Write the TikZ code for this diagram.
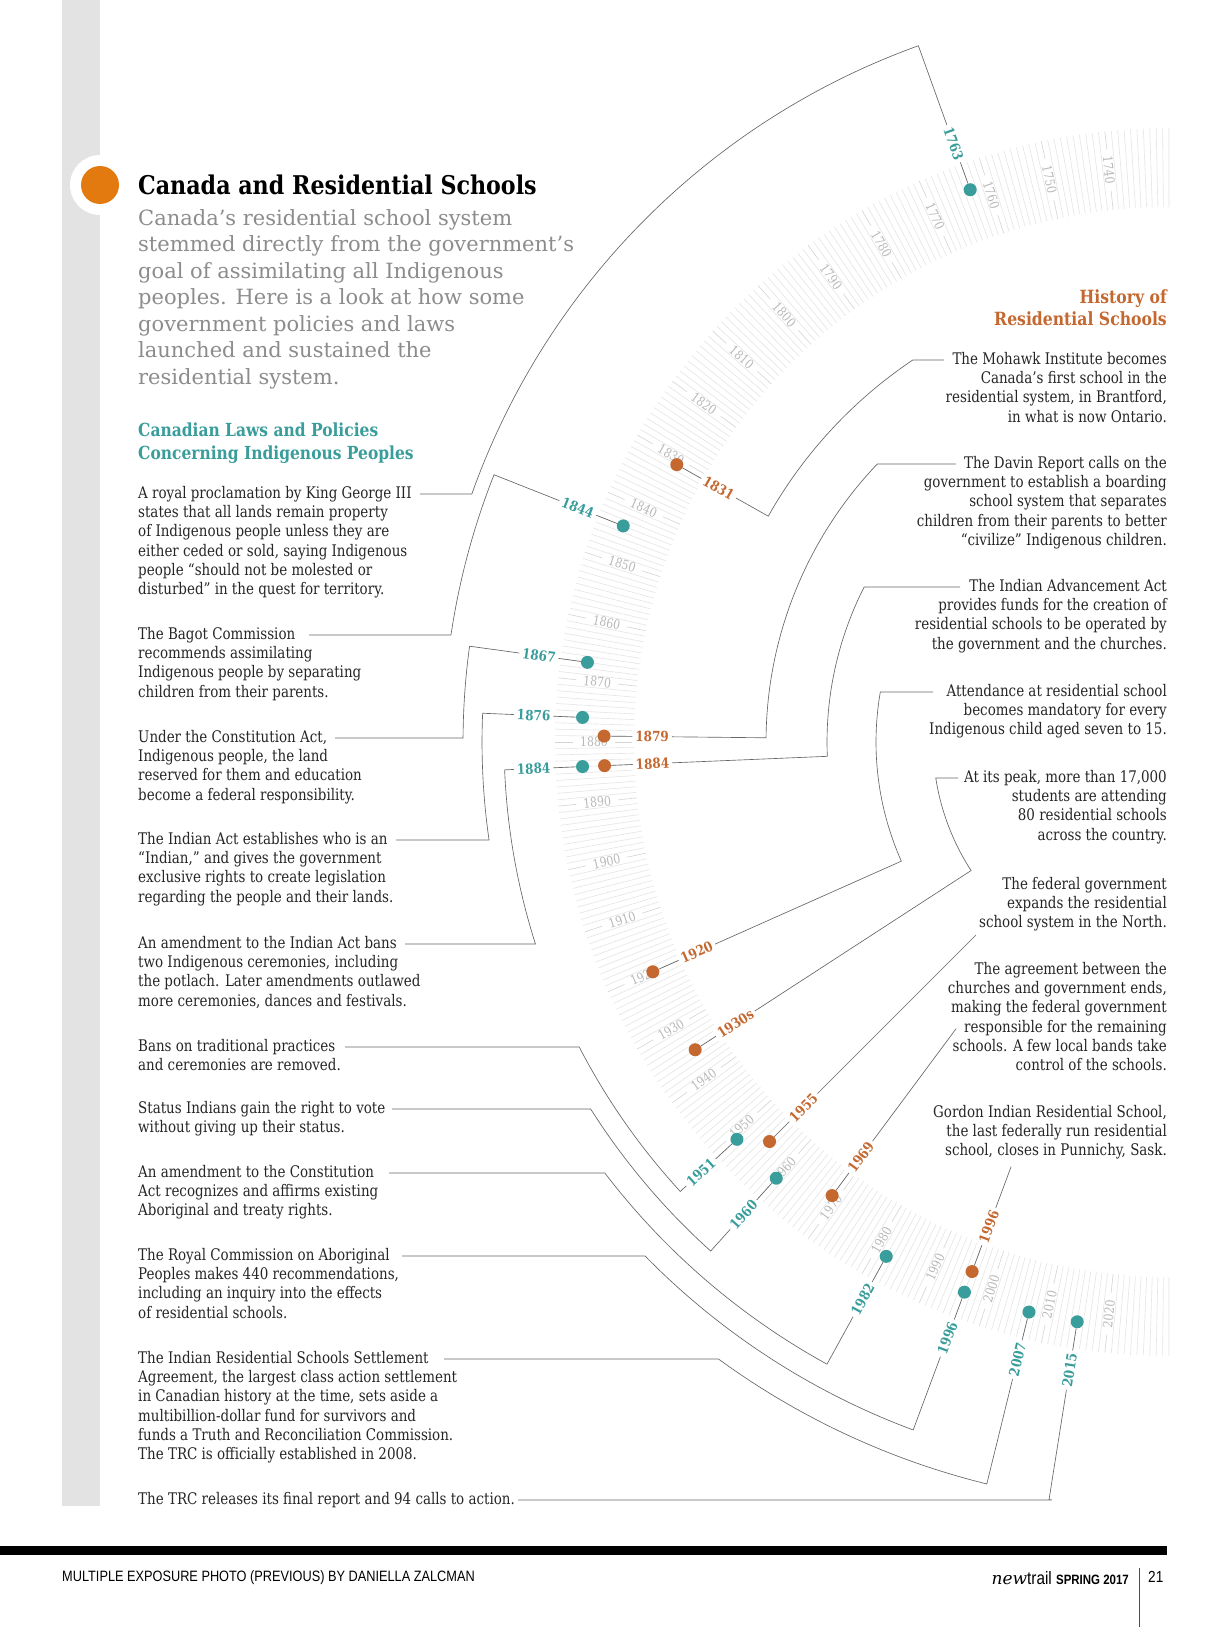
\documentclass[tikz,border=0pt]{standalone}
\usepackage{fontspec}
\setmainfont{DejaVu Serif}
\newfontfamily\bodyfont[FakeStretch=0.84]{DejaVu Serif}
\newfontfamily\headfont[FakeStretch=0.86]{DejaVu Serif}
\newfontfamily\footfont[FakeStretch=0.85]{Liberation Sans}
\definecolor{tealc}{RGB}{57,157,155}
\definecolor{rustc}{RGB}{196,104,48}
\definecolor{flame}{RGB}{226,122,16}

\begin{document}
\begin{tikzpicture}[x=1pt, y=1pt,
    yeartick/.style={draw=black!10, line width=0.6pt},
    dectick/.style={draw=black!17, line width=0.6pt},
    decade/.style={font=\bodyfont\fontsize{13}{13}\selectfont, text=black!28, inner sep=0pt},
    conn/.style={draw=black!60, line width=0.65pt},
    tealdot/.style={circle, fill=tealc, inner sep=0pt, minimum size=13pt},
    rustdot/.style={circle, fill=rustc, inner sep=0pt, minimum size=13pt},
    tealyear/.style={font=\headfont\bfseries\fontsize{14}{14}\selectfont, text=tealc, fill=white, inner sep=3pt},
    rustyear/.style={font=\headfont\bfseries\fontsize{14}{14}\selectfont, text=rustc, fill=white, inner sep=3pt},
    lefttext/.style={anchor=north west, align=left, inner sep=0pt, text=black!85, font=\bodyfont\fontsize{16}{19.3}\selectfont},
    righttext/.style={anchor=north east, align=right, inner sep=0pt, text=black!85, font=\bodyfont\fontsize{16}{19.3}\selectfont}]
\useasboundingbox (0,0) rectangle (1220,-1627);
\fill[white] (0,0) rectangle (1220,-1627);

% page strip and title
\fill[black!11] (62,0) rectangle (100,-1506);
\fill[white] (100,-185) circle (30);
\fill[flame] (100,-185) circle (19);
\node[anchor=west, inner sep=0pt, font=\headfont\bfseries\fontsize{25.8}{25.8}\selectfont] (title) at (138,-185) {Canada and Residential Schools};
\node[anchor=north west, align=left, inner sep=0pt, text=black!45, font=\fontsize{21}{26.5}\selectfont] (intro) at (138,-209) {Canada’s residential school system\\ stemmed directly from the government’s\\ goal of assimilating all Indigenous\\ peoples. Here is a look at how some\\ government policies and laws\\ launched and sustained the\\ residential system.};
\node[anchor=north west, align=left, inner sep=0pt, text=tealc, font=\headfont\bfseries\fontsize{18}{22.5}\selectfont] (lawhead) at (138,-423) {Canadian Laws and Policies\\ Concerning Indigenous Peoples};
\node[anchor=north east, align=right, inner sep=0pt, text=rustc, font=\headfont\bfseries\fontsize{18.2}{22.5}\selectfont] (histhead) at (1167,-289) {History of\\ Residential Schools};

% the year band
\coordinate (ctr) at (1169,-742);
\foreach \yr in {1730,...,2030} {
  \pgfmathsetmacro\angl{180+0.6*(\yr-1880)}
  \pgfmathtruncatemacro\isdec{(mod(\yr,10)==0) && (\yr>1735) && (\yr<2025)}
  \ifnum\isdec=0
    \draw[yeartick] ([shift={(\angl:535pt)}]ctr) -- ([shift={(\angl:614pt)}]ctr);
  \else
    \draw[dectick] ([shift={(\angl:535pt)}]ctr) -- ([shift={(\angl:554pt)}]ctr)
                   ([shift={(\angl:596pt)}]ctr) -- ([shift={(\angl:614pt)}]ctr);
    \node[decade, rotate=\angl+180] at ([shift={(\angl:575pt)}]ctr) {\yr};
  \fi
}

% laws and policies (outside of the band)
\foreach \yr/\rad/\legy/\legx [count=\i] in {1763/740/494/420, 1844/726/635/309, 1867/706/738/335, 1876/687/840/396, 1884/665/944/405, 1951/664/1047/345, 1960/685/1109/392, 1982/710/1173/389, 1996/734/1256/402, 2007/764/1359/444, 2015/767/1500/518} {
  \pgfmathsetmacro\angl{180+0.6*(\yr-1880)}
  \pgfmathsetmacro\endang{180-asin((742-\legy)/\rad)}
  \coordinate (le\i) at (\legx,-\legy);
  \node[tealdot] (td\i) at ([shift={(\angl:587pt)}]ctr) {};
  \draw[conn] (td\i) -- ([shift={(\angl:\rad pt)}]ctr)
    arc[start angle=\angl, end angle=\endang, radius=\rad pt] -- (le\i);
  \node[tealyear, rotate=\angl+180] at ([shift={(\angl:636pt)}]ctr) {\yr};
}

% residential schools (inside of the band)
\foreach \yr/\lab/\rad/\legy/\legx [count=\i] in {1831/1831/460/360/944, 1879/1879/403/464/956, 1884/1884/342/587/960, 1920/1920/293/692/933, 1935/1930s/236/778/958} {
  \pgfmathsetmacro\angl{180+0.6*(\yr-1880)}
  \pgfmathsetmacro\endang{180-asin((742-\legy)/\rad)}
  \coordinate (re\i) at (\legx,-\legy);
  \node[rustdot] (od\i) at ([shift={(\angl:565pt)}]ctr) {};
  \draw[conn] (od\i) -- ([shift={(\angl:\rad pt)}]ctr)
    arc[start angle=\angl, end angle=\endang, radius=\rad pt] -- (re\i);
  \node[rustyear, rotate=\angl+180] at ([shift={(\angl:517pt)}]ctr) {\lab};
}
\foreach \yr/\rad [count=\i from 6] in {1955/273, 1969/357, 1996/453} {
  \pgfmathsetmacro\angl{180+0.6*(\yr-1880)}
  \coordinate (re\i) at ([shift={(\angl:\rad pt)}]ctr);
  \node[rustdot] (od\i) at ([shift={(\angl:565pt)}]ctr) {};
  \draw[conn] (od\i) -- (re\i);
  \node[rustyear, rotate=\angl+180] at ([shift={(\angl:517pt)}]ctr) {\yr};
}

% left column
\node[lefttext] (l1) at (138,-486) {A royal proclamation by King George III\\ states that all lands remain property\\ of Indigenous people unless they are\\ either ceded or sold, saying Indigenous\\ people “should not be molested or\\ disturbed” in the quest for territory.};
\node[lefttext] (l2) at (138,-627) {The Bagot Commission\\ recommends assimilating\\ Indigenous people by separating\\ children from their parents.};
\node[lefttext] (l3) at (138,-730) {Under the Constitution Act,\\ Indigenous people, the land\\ reserved for them and education\\ become a federal responsibility.};
\node[lefttext] (l4) at (138,-832) {The Indian Act establishes who is an\\ “Indian,” and gives the government\\ exclusive rights to create legislation\\ regarding the people and their lands.};
\node[lefttext] (l5) at (138,-936) {An amendment to the Indian Act bans\\ two Indigenous ceremonies, including\\ the potlach. Later amendments outlawed\\ more ceremonies, dances and festivals.};
\node[lefttext] (l6) at (138,-1039) {Bans on traditional practices\\ and ceremonies are removed.};
\node[lefttext] (l7) at (138,-1101) {Status Indians gain the right to vote\\ without giving up their status.};
\node[lefttext] (l8) at (138,-1165) {An amendment to the Constitution\\ Act recognizes and affirms existing\\ Aboriginal and treaty rights.};
\node[lefttext] (l9) at (138,-1248) {The Royal Commission on Aboriginal\\ Peoples makes 440 recommendations,\\ including an inquiry into the effects\\ of residential schools.};
\node[lefttext] (l10) at (138,-1351) {The Indian Residential Schools Settlement\\ Agreement, the largest class action settlement\\ in Canadian history at the time, sets aside a\\ multibillion-dollar fund for survivors and\\ funds a Truth and Reconciliation Commission.\\ The TRC is officially established in 2008.};
\node[lefttext] (l11) at (138,-1492) {The TRC releases its final report and 94 calls to action.};

% right column
\node[righttext] (r1) at (1167,-352) {The Mohawk Institute becomes\\ Canada’s first school in the\\ residential system, in Brantford,\\ in what is now Ontario.};
\node[righttext] (r2) at (1167,-456) {The Davin Report calls on the\\ government to establish a boarding\\ school system that separates\\ children from their parents to better\\ “civilize” Indigenous children.};
\node[righttext] (r3) at (1167,-579) {The Indian Advancement Act\\ provides funds for the creation of\\ residential schools to be operated by\\ the government and the churches.};
\node[righttext] (r4) at (1167,-684) {Attendance at residential school\\ becomes mandatory for every\\ Indigenous child aged seven to 15.};
\node[righttext] (r5) at (1167,-770) {At its peak, more than 17,000\\ students are attending\\ 80 residential schools\\ across the country.};
\node[righttext] (r6) at (1167,-877) {The federal government\\ expands the residential\\ school system in the North.};
\node[righttext] (r7) at (1167,-962) {The agreement between the\\ churches and government ends,\\ making the federal government\\ responsible for the remaining\\ schools. A few local bands take\\ control of the schools.};
\node[righttext] (r8) at (1167,-1105) {Gordon Indian Residential School,\\ the last federally run residential\\ school, closes in Punnichy, Sask.};

% footer
\fill[black] (0,-1546) rectangle (1167,-1555);
\node[anchor=west, inner sep=0pt, font=\footfont\fontsize{15}{15}\selectfont] (credit) at (62,-1578) {MULTIPLE EXPOSURE PHOTO (PREVIOUS) BY DANIELLA ZALCMAN};
\node[anchor=east, inner sep=0pt] (mag) at (1129,-1578) {{\itshape\fontsize{17}{17}\selectfont new}{\footfont\fontsize{18}{18}\selectfont trail \bfseries\fontsize{13.5}{14}\selectfont SPRING 2017}};
\draw[black!70, line width=0.6pt] (1139,-1568) -- (1139,-1627);
\node[anchor=west, inner sep=0pt, font=\footfont\fontsize{16}{16}\selectfont] (page) at (1148,-1577) {21};
\end{tikzpicture}
\end{document}
